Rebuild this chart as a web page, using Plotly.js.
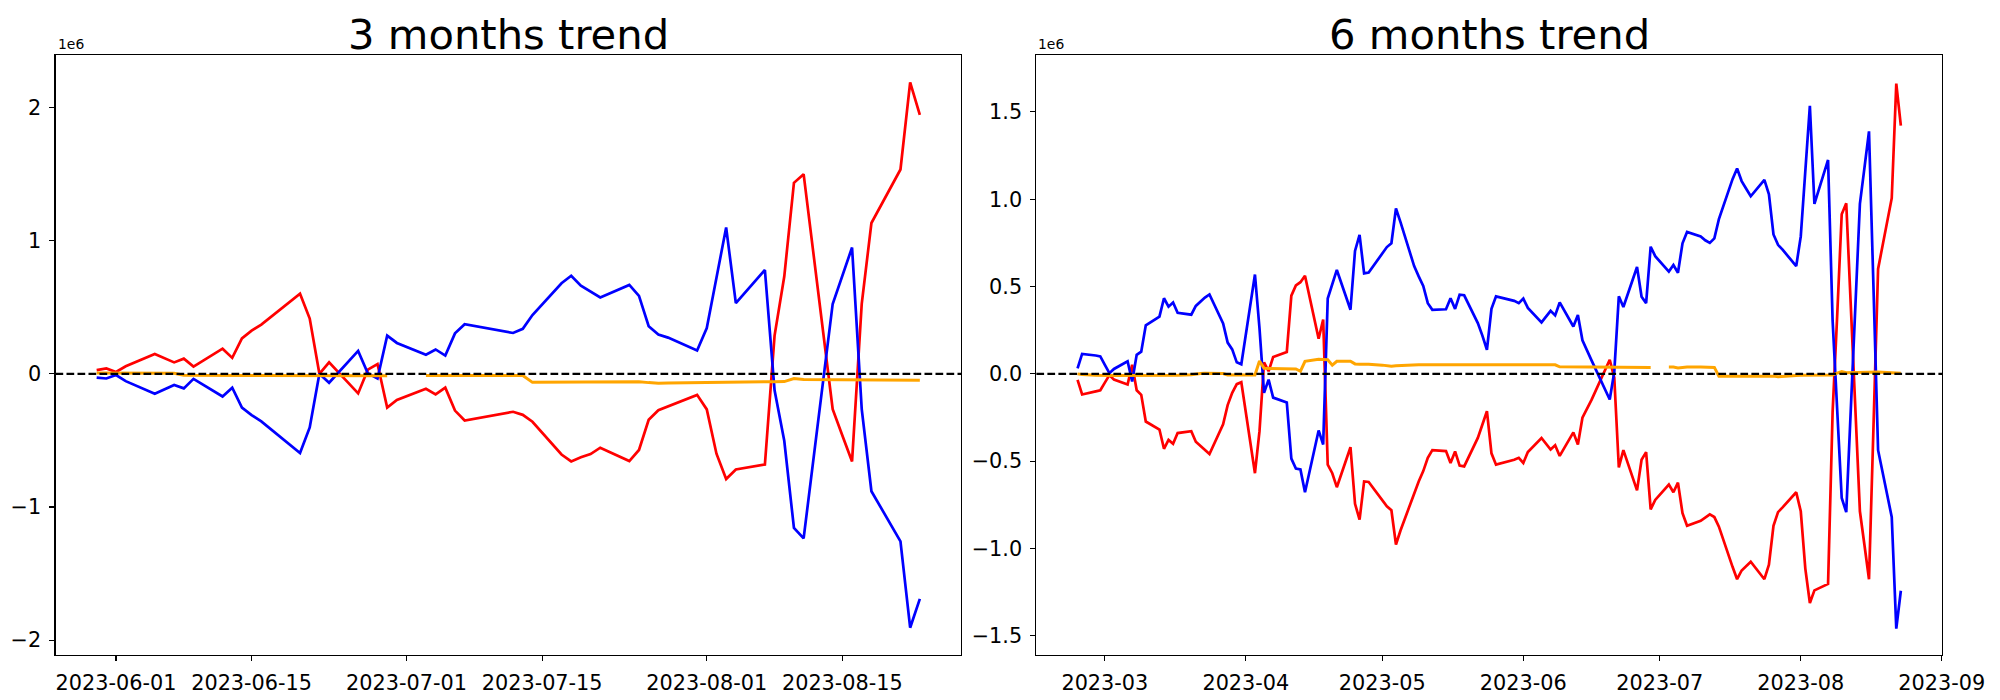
<!DOCTYPE html>
<html>
<head>
<meta charset="utf-8">
<script src="https://cdn.plot.ly/plotly-3.0.1.min.js"></script>
<style>html,body{margin:0;padding:0;background:#fff;}#chart{width:2000px;height:700px;}</style>
</head>
<body>
<div id="chart"></div>
<script>
// ---------- 3 months data (values in units of 1e6) ----------
const dates3 = ["2023-05-30","2023-05-31",
"2023-06-01","2023-06-02","2023-06-05","2023-06-06","2023-06-07","2023-06-08","2023-06-09","2023-06-12","2023-06-13","2023-06-14","2023-06-15","2023-06-16","2023-06-20","2023-06-21","2023-06-22","2023-06-23","2023-06-26","2023-06-27","2023-06-28","2023-06-29","2023-06-30",
"2023-07-03","2023-07-04","2023-07-05","2023-07-06","2023-07-07","2023-07-10","2023-07-11","2023-07-12","2023-07-13","2023-07-14","2023-07-17","2023-07-18","2023-07-19","2023-07-20","2023-07-21","2023-07-24","2023-07-25","2023-07-26","2023-07-27","2023-07-28","2023-07-31",
"2023-08-01","2023-08-02","2023-08-03","2023-08-04","2023-08-07","2023-08-08","2023-08-09","2023-08-10","2023-08-11","2023-08-14","2023-08-15","2023-08-16","2023-08-17","2023-08-18","2023-08-21","2023-08-22","2023-08-23"];
const red3 = [0.028,0.04,
0.014,0.057,0.149,0.117,0.086,0.114,0.054,0.189,0.12,0.266,0.324,0.37,0.602,0.415,0.0,0.086,-0.147,0.031,0.074,-0.254,-0.196,
-0.112,-0.155,-0.104,-0.276,-0.351,-0.311,-0.3,-0.285,-0.308,-0.36,-0.606,-0.658,-0.627,-0.603,-0.555,-0.655,-0.572,-0.345,-0.273,-0.245,-0.158,
-0.267,-0.6,-0.79,-0.718,-0.681,0.287,0.731,1.435,1.5,-0.265,-0.463,-0.658,0.525,1.133,1.535,2.19,1.946];
const blue3 = [-0.029,-0.035,
-0.009,-0.055,-0.15,-0.115,-0.084,-0.109,-0.038,-0.17,-0.104,-0.253,-0.31,-0.357,-0.595,-0.403,0.0,-0.067,0.172,0.005,-0.035,0.287,0.232,
0.143,0.183,0.137,0.304,0.373,0.333,0.32,0.307,0.338,0.442,0.68,0.737,0.662,0.617,0.574,0.668,0.585,0.358,0.295,0.272,0.175,
0.344,0.731,1.099,0.531,0.78,-0.124,-0.503,-1.158,-1.236,0.525,0.737,0.949,-0.265,-0.882,-1.258,-1.907,-1.69];
const orange3 = [0.006,0.006,
0.006,0.006,0.006,0.006,0.005,-0.01,-0.011,-0.012,-0.012,-0.012,-0.012,-0.012,-0.012,-0.012,-0.012,-0.012,-0.013,-0.014,-0.015,-0.015,null,
-0.012,-0.012,-0.012,-0.012,-0.012,-0.012,-0.012,-0.012,-0.012,-0.064,-0.063,-0.063,-0.063,-0.062,-0.06,-0.06,-0.06,-0.066,-0.07,-0.068,-0.064,
-0.063,-0.062,-0.062,-0.061,-0.06,-0.059,-0.058,-0.035,-0.043,-0.044,-0.044,-0.044,-0.044,-0.045,-0.046,-0.047,-0.048];

// ---------- 6 months data (values in units of 1e6) ----------
const dates6 = ["2023-02-23","2023-02-24","2023-02-27","2023-02-28",
"2023-03-01","2023-03-02","2023-03-03","2023-03-06","2023-03-07","2023-03-08","2023-03-09","2023-03-10","2023-03-13","2023-03-14","2023-03-15","2023-03-16","2023-03-17","2023-03-20","2023-03-21","2023-03-22","2023-03-23","2023-03-24","2023-03-27","2023-03-28","2023-03-29","2023-03-30","2023-03-31",
"2023-04-03","2023-04-04","2023-04-05","2023-04-06","2023-04-07","2023-04-10","2023-04-11","2023-04-12","2023-04-13","2023-04-14","2023-04-17","2023-04-18","2023-04-19","2023-04-20","2023-04-21","2023-04-24","2023-04-25","2023-04-26","2023-04-27","2023-04-28",
"2023-05-01","2023-05-02","2023-05-03","2023-05-04","2023-05-05","2023-05-08","2023-05-09","2023-05-10","2023-05-11","2023-05-12","2023-05-15","2023-05-16","2023-05-17","2023-05-18","2023-05-19","2023-05-22","2023-05-23","2023-05-24","2023-05-25","2023-05-26","2023-05-30","2023-05-31",
"2023-06-01","2023-06-02","2023-06-05","2023-06-06","2023-06-07","2023-06-08","2023-06-09","2023-06-12","2023-06-13","2023-06-14","2023-06-15","2023-06-16","2023-06-20","2023-06-21","2023-06-22","2023-06-23","2023-06-26","2023-06-27","2023-06-28","2023-06-29","2023-06-30",
"2023-07-03","2023-07-04","2023-07-05","2023-07-06","2023-07-07","2023-07-10","2023-07-11","2023-07-12","2023-07-13","2023-07-14","2023-07-17","2023-07-18","2023-07-19","2023-07-20","2023-07-21","2023-07-24","2023-07-25","2023-07-26","2023-07-27","2023-07-28","2023-07-31",
"2023-08-01","2023-08-02","2023-08-03","2023-08-04","2023-08-07","2023-08-08","2023-08-09","2023-08-10","2023-08-11","2023-08-14","2023-08-15","2023-08-16","2023-08-17","2023-08-18","2023-08-21","2023-08-22","2023-08-23"];
const red6 = [-0.035,-0.118,-0.1,-0.094,
-0.05,-0.007,-0.033,-0.061,0.052,-0.094,-0.12,-0.273,-0.319,-0.429,-0.378,-0.4,-0.339,-0.328,-0.389,-0.411,-0.437,-0.459,-0.289,-0.179,-0.109,-0.059,-0.048,
-0.569,-0.328,0.066,0.015,0.096,0.125,0.448,0.507,0.525,0.562,0.201,0.311,-0.52,-0.569,-0.649,-0.42,-0.744,-0.835,-0.616,-0.619,
-0.722,-0.759,-0.781,-0.977,-0.897,-0.678,-0.616,-0.557,-0.481,-0.437,-0.442,-0.51,-0.444,-0.525,-0.53,-0.367,-0.295,-0.214,-0.455,-0.52,-0.492,-0.481,
-0.51,-0.448,-0.367,-0.4,-0.433,-0.409,-0.47,-0.335,-0.405,-0.251,-0.197,-0.149,0.081,-0.022,-0.536,-0.437,-0.667,-0.492,-0.448,-0.776,-0.722,
-0.634,-0.678,-0.623,-0.798,-0.87,-0.842,-0.824,-0.805,-0.82,-0.875,-1.105,-1.176,-1.126,-1.1,-1.076,-1.176,-1.093,-0.87,-0.792,-0.765,-0.678,
-0.787,-1.115,-1.312,-1.24,-1.203,-0.219,0.33,0.914,0.977,-0.787,-0.98,-1.176,-0.29,0.601,1.006,1.662,1.421];
const blue6 = [0.031,0.114,0.105,0.1,
0.052,0.004,0.028,0.072,-0.044,0.109,0.127,0.278,0.328,0.433,0.385,0.409,0.35,0.339,0.389,0.415,0.437,0.455,0.289,0.179,0.14,0.066,0.055,
0.569,0.26,-0.109,-0.033,-0.136,-0.164,-0.485,-0.542,-0.547,-0.678,-0.324,-0.405,0.431,0.514,0.595,0.367,0.704,0.796,0.575,0.58,
0.689,0.726,0.748,0.947,0.869,0.617,0.558,0.503,0.405,0.367,0.37,0.433,0.372,0.453,0.45,0.291,0.219,0.138,0.372,0.444,0.418,0.405,
0.431,0.378,0.295,0.328,0.361,0.335,0.409,0.271,0.337,0.192,0.131,0.077,-0.147,0.011,0.444,0.383,0.612,0.442,0.405,0.728,0.674,
0.586,0.623,0.579,0.748,0.813,0.787,0.765,0.75,0.776,0.886,1.115,1.176,1.104,1.06,1.017,1.111,1.028,0.798,0.739,0.711,0.617,
0.787,1.14,1.535,0.973,1.225,0.306,-0.18,-0.711,-0.792,0.973,1.18,1.389,0.48,-0.437,-0.82,-1.459,-1.242];
const orange6 = [0.0,-0.004,-0.008,-0.01,
-0.01,-0.01,-0.01,-0.01,-0.01,-0.01,-0.01,-0.01,-0.01,-0.01,-0.01,-0.01,-0.008,-0.005,0.0,0.002,0.003,0.003,0.002,-0.006,-0.007,-0.007,-0.007,
-0.006,0.074,0.032,0.031,0.031,0.031,0.03,0.028,0.015,0.072,0.083,0.083,0.081,0.05,0.072,0.072,0.057,0.055,0.055,0.055,
0.05,0.046,0.044,0.046,0.048,0.051,0.052,0.052,0.052,0.052,0.052,0.052,0.052,0.052,0.052,0.052,0.052,0.052,0.052,0.053,0.053,0.053,
0.053,0.053,0.053,0.053,0.053,0.052,0.04,0.039,0.039,0.038,0.038,0.038,0.037,0.037,0.037,0.037,0.036,0.036,0.036,0.036,null,
0.039,0.039,0.034,0.038,0.039,0.039,0.038,0.038,0.037,-0.013,-0.013,-0.013,-0.012,-0.012,-0.011,-0.011,-0.012,-0.013,-0.017,-0.014,-0.009,
-0.008,-0.008,-0.007,-0.007,-0.007,-0.006,0.004,0.013,0.007,0.009,0.01,0.012,0.012,0.011,0.006,0.004,0.003];

// ---------- ticks ----------
const xTickVals3 = ["2023-06-01","2023-06-15","2023-07-01","2023-07-15","2023-08-01","2023-08-15"];
const xTickText3 = ["2023-06-01","2023-06-15","2023-07-01","2023-07-15","2023-08-01","2023-08-15"];
const xTickVals6 = ["2023-03-01","2023-04-01","2023-05-01","2023-06-01","2023-07-01","2023-08-01","2023-09-01"];
const xTickText6 = ["2023-03","2023-04","2023-05","2023-06","2023-07","2023-08","2023-09"];
const yTickVals3 = [-2,-1,0,1,2];
const yTickText3 = ["\u22122","\u22121","0","1","2"];
const yTickVals6 = [-1.5,-1.0,-0.5,0.0,0.5,1.0,1.5];
const yTickText6 = ["\u22121.5","\u22121.0","\u22120.5","0.0","0.5","1.0","1.5"];
const titles = ["3 months trend","6 months trend"];

const FONT = "DejaVu Sans, Liberation Sans, sans-serif";
function line(x, y, color, w, xa, ya) {
  return {x: x, y: y, type: "scatter", mode: "lines", line: {color: color, width: w},
          xaxis: xa, yaxis: ya, connectgaps: false, hoverinfo: "skip"};
}
const traces = [
  line(dates3, red3, "#ff0000", 2.7, "x", "y"),
  line(dates3, blue3, "#0000ff", 2.7, "x", "y"),
  line(dates3, orange3, "#ffa500", 3.0, "x", "y"),
  line(dates6, red6, "#ff0000", 2.7, "x2", "y2"),
  line(dates6, blue6, "#0000ff", 2.7, "x2", "y2"),
  line(dates6, orange6, "#ffa500", 3.0, "x2", "y2")
];

const axisCommon = {
  showline: true, mirror: true, linecolor: "#000", linewidth: 1.1,
  ticks: "outside", ticklen: 5, tickwidth: 1.1, tickcolor: "#000",
  showgrid: false, zeroline: false,
  tickfont: {family: FONT, size: 20.8, color: "#000"},
  ticklabelstandoff: 4
};
const H = 700, W = 2000;
const yDom = [45/H, 645/H];
const layout = {
  width: W, height: H,
  margin: {l: 0, r: 0, t: 0, b: 0},
  paper_bgcolor: "#fff", plot_bgcolor: "#fff",
  showlegend: false,
  font: {family: FONT, color: "#000"},
  xaxis: Object.assign({}, axisCommon, {domain: [55.5/W, 961/W], type: "date", anchor: "y",
    range: ["2023-05-25 18:00", "2023-08-27 06:00"], tickmode: "array", tickvals: xTickVals3, ticktext: xTickText3}),
  yaxis: Object.assign({}, axisCommon, {domain: yDom, anchor: "x",
    range: [-2.112, 2.395], tickmode: "array", tickvals: yTickVals3, ticktext: yTickText3}),
  xaxis2: Object.assign({}, axisCommon, {domain: [1036.4/W, 1942/W], type: "date", anchor: "y2",
    range: ["2023-02-13 22:48", "2023-09-01 01:12"], tickmode: "array", tickvals: xTickVals6, ticktext: xTickText6}),
  yaxis2: Object.assign({}, axisCommon, {domain: yDom, anchor: "x2",
    range: [-1.61, 1.826], tickmode: "array", tickvals: yTickVals6, ticktext: yTickText6}),
  shapes: [
    {type: "line", xref: "x domain", yref: "y", x0: 0, x1: 1, y0: 0, y1: 0,
     line: {color: "#000", width: 2.1, dash: "7.7px,3.3px"}, layer: "above"},
    {type: "line", xref: "x2 domain", yref: "y2", x0: 0, x1: 1, y0: 0, y1: 0,
     line: {color: "#000", width: 2.1, dash: "7.7px,3.3px"}, layer: "above"}
  ],
  annotations: [
    {text: titles[0], xref: "paper", yref: "paper", x: 508/W, y: (H-61)/H, xanchor: "center", yanchor: "bottom",
     showarrow: false, font: {family: FONT, size: 41.7, color: "#000"}},
    {text: titles[1], xref: "paper", yref: "paper", x: 1489.2/W, y: (H-61)/H, xanchor: "center", yanchor: "bottom",
     showarrow: false, font: {family: FONT, size: 41.7, color: "#000"}},
    {text: "1e6", xref: "paper", yref: "paper", x: 55.5/W, y: (H-54)/H, xanchor: "left", yanchor: "bottom",
     showarrow: false, font: {family: FONT, size: 13.9, color: "#000"}},
    {text: "1e6", xref: "paper", yref: "paper", x: 1036.4/W, y: (H-54)/H, xanchor: "left", yanchor: "bottom",
     showarrow: false, font: {family: FONT, size: 13.9, color: "#000"}}
  ]
};
Plotly.newPlot("chart", traces, layout, {staticPlot: true, displayModeBar: false});
</script>
</body>
</html>
